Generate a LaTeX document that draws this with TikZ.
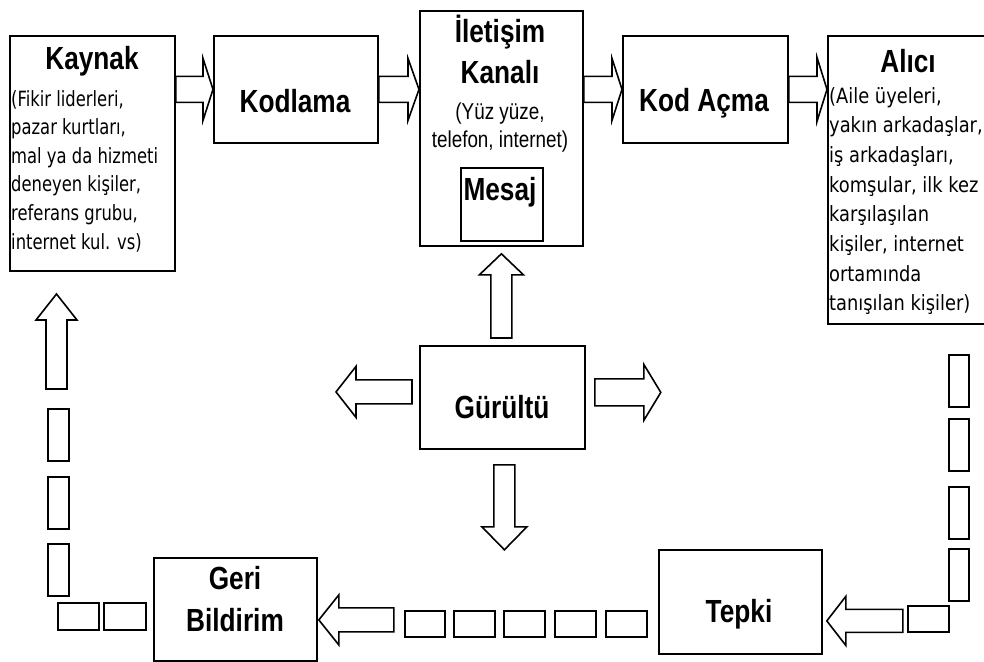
\documentclass[tikz,border=0pt]{standalone}
\usepackage{fontspec}
\usetikzlibrary{calc}
\newfontfamily\narrowfont[FakeStretch=0.82]{Liberation Sans}
\newfontfamily\bodyfont[FakeStretch=0.78]{DejaVu Sans}
\newfontfamily\widebodyfont[FakeStretch=0.85]{DejaVu Sans}

\tikzset{
  box/.style={draw=black, line width=1.8pt, anchor=north west, inner sep=0pt},
  title/.style={font=\narrowfont\bfseries\fontsize{32}{36}\selectfont, anchor=base, inner sep=0pt},
  sub/.style={font=\narrowfont\fontsize{23}{27}\selectfont, anchor=base, inner sep=0pt},
  body/.style={font=\bodyfont\fontsize{21}{24}\selectfont, anchor=base west, inner sep=0pt},
  widebody/.style={font=\widebodyfont\fontsize{21}{24}\selectfont, anchor=base west, inner sep=0pt},
  blk/.style={draw=black, fill=white, line width=1.6pt, line join=miter},
  seg/.style={draw=black, line width=1.6pt},
}

% hollow block arrow: tail, tip, shaft half-width, head half-width, head length
\newcommand{\blockarrow}[5]{%
  \coordinate (ba-base) at ($(#2)!#5!(#1)$);
  \draw[blk] ($(#1)!#3!90:(#2)$) -- ($(ba-base)!#3!90:(#2)$) -- ($(ba-base)!#4!90:(#2)$)
    -- (#2) -- ($(ba-base)!#4!-90:(#2)$) -- ($(ba-base)!#3!-90:(#2)$)
    -- ($(#1)!#3!-90:(#2)$) -- cycle;}

\begin{document}
\begin{tikzpicture}[x=1pt, y=-1pt]
\useasboundingbox (0,0) rectangle (984,661);
\clip (0,0) rectangle (984,661);
\fill[white] (0,0) rectangle (984,661);

% main boxes
\node[box, minimum width=165pt, minimum height=235pt] (kaynak) at (9,35) {};
\node[box, minimum width=164pt, minimum height=107pt] (kodlama) at (213,35) {};
\node[box, minimum width=163pt, minimum height=235pt] (kanal) at (419,10) {};
\node[box, minimum width=82pt, minimum height=73pt] (mesaj) at (460,167) {};
\node[box, minimum width=165pt, minimum height=107pt] (kodacma) at (622,35) {};
\node[box, minimum width=170pt, minimum height=288pt] (alici) at (827,35) {};
\node[box, minimum width=165pt, minimum height=103pt] (gurultu) at (419,345) {};
\node[box, minimum width=163pt, minimum height=103pt] (geri) at (153,557) {};
\node[box, minimum width=163pt, minimum height=104pt] (tepki) at (658,549) {};

% titles
\node[title] (kaynakT) at (92,70) {Kaynak};
\node[title] (kodlamaT) at (295,112) {Kodlama};
\node[title] (kanalT1) at (500,43) {İletişim};
\node[title] (kanalT2) at (500,83) {Kanalı};
\node[sub] (kanalS1) at (500,119) {(Yüz yüze,};
\node[sub] (kanalS2) at (500,147) {telefon, internet)};
\node[title] (mesajT) at (500,200) {Mesaj};
\node[title] (kodacmaT) at (704,111) {Kod Açma};
\node[title] (aliciT) at (908,72) {Alıcı};
\node[title] (gurultuT) at (502,418) {Gürültü};
\node[title] (geriT1) at (235,589) {Geri};
\node[title] (geriT2) at (235,631) {Bildirim};
\node[title] (tepkiT) at (739,622) {Tepki};

% descriptive lines
\foreach \t [count=\i from 0] in {{(Fikir liderleri,},{pazar kurtları,},{mal ya da hizmeti},{deneyen kişiler,},{referans grubu,},{internet kul. vs)}}
  \node[body] (kaynakL\i) at (11,106+28.6*\i) {\t};
\foreach \t [count=\i from 0] in {{(Aile üyeleri,},{yakın arkadaşlar,},{iş arkadaşları,},{komşular, ilk kez},{karşılaşılan},{kişiler, internet},{ortamında},{tanışılan kişiler)}}
  \node[widebody] (aliciL\i) at (829,103+29.7*\i) {\t};

% forward chain arrows
\coordinate (a1t) at (kaynak.east |- kodlama.west);
\blockarrow{a1t}{kodlama.west}{13pt}{31pt}{10pt}
\coordinate (a2h) at (kanal.west |- kodlama.east);
\blockarrow{kodlama.east}{a2h}{13pt}{31pt}{11pt}
\coordinate (a3t) at (kanal.east |- kodacma.west);
\blockarrow{a3t}{kodacma.west}{13pt}{31pt}{10pt}
\coordinate (a4h) at (alici.west |- kodacma.east);
\blockarrow{kodacma.east}{a4h}{13pt}{32pt}{10pt}

% noise arrows
\coordinate (nUt) at ($(kanal.south |- gurultu.north)+(0,-7)$);
\coordinate (nUh) at ($(kanal.south)+(0,7)$);
\blockarrow{nUt}{nUh}{10.5pt}{22pt}{21pt}
\coordinate (nLt) at ($(gurultu.west)+(-7,-5.5)$);
\coordinate (nLh) at ($(gurultu.west)+(-83,-5.5)$);
\blockarrow{nLt}{nLh}{12pt}{25.5pt}{20pt}
\coordinate (nRt) at ($(gurultu.east)+(9,-5)$);
\coordinate (nRh) at ($(gurultu.east)+(75,-5)$);
\blockarrow{nRt}{nRh}{13.5pt}{28pt}{17pt}
\coordinate (nDt) at ($(gurultu.south)+(2,15)$);
\coordinate (nDh) at ($(gurultu.south)+(2,100)$);
\blockarrow{nDt}{nDh}{10.5pt}{22.5pt}{23pt}

% feedback path
\coordinate (tpH) at ($(tepki.east)+(4,19)$);
\coordinate (tpT) at ($(tepki.east)+(80,19)$);
\blockarrow{tpT}{tpH}{11.5pt}{24.5pt}{19pt}
\coordinate (grH) at ($(geri.east)+(1,10.5)$);
\coordinate (grT) at ($(geri.east)+(76,10.5)$);
\blockarrow{grT}{grH}{12pt}{25pt}{20pt}
\coordinate (kyH) at (56.5,294);
\coordinate (kyT) at (56.5,389);
\blockarrow{kyT}{kyH}{10.5pt}{20.5pt}{26pt}

% broken segments of the return line
\foreach \y in {355,419,487,549}
  \draw[seg] (949,\y) rectangle ++(20,52);
\draw[seg] (908,606) rectangle (949,632);
\foreach \x/\w in {405/40,454/41,504/41,555/41,606/41}
  \draw[seg] (\x,611) rectangle ++(\w,26);
\draw[seg] (104,603) rectangle (146,630);
\draw[seg] (58,603) rectangle (99,630);
\foreach \y in {409,477,544}
  \draw[seg] (48,\y) rectangle ++(21,52);
\end{tikzpicture}
\end{document}
